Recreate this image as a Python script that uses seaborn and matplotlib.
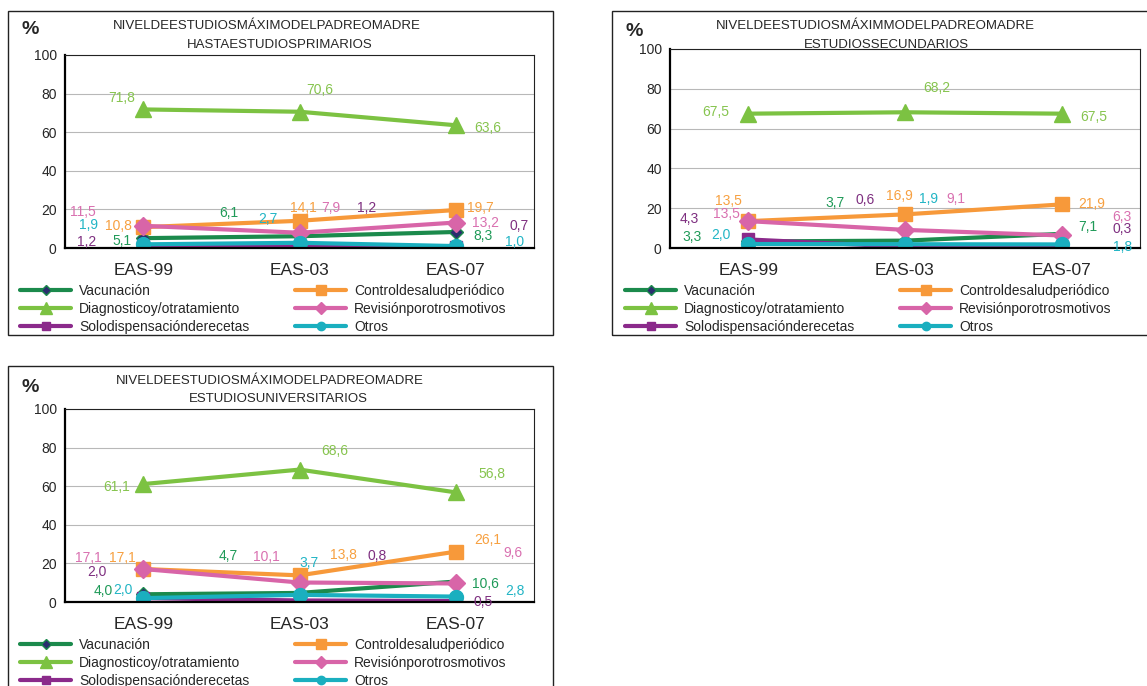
import numpy as np
import matplotlib
matplotlib.use("Agg")
import matplotlib.pyplot as plt
import seaborn as sns
from matplotlib.lines import Line2D
from matplotlib.patches import Rectangle

sns.set_style("white")
plt.rcParams['font.family'] = ['Liberation Sans', 'DejaVu Sans']

W, H = 1147, 686

surveys = ["EAS-99", "EAS-03", "EAS-07"]
series_names = ["Vacunación", "Controldesaludperiódico", "Diagnosticoy/otratamiento",
                "Revisiónporotrosmotivos", "Solodispensaciónderecetas", "Otros"]

# % por nivel de estudios del padre o madre (orden de series_names)
primarios = [
    [5.1, 6.1, 8.3],
    [10.8, 14.1, 19.7],
    [71.8, 70.6, 63.6],
    [11.5, 7.9, 13.2],
    [1.2, 1.2, 0.7],
    [1.9, 2.7, 1.0],
]
secundarios = [
    [3.3, 3.7, 7.1],
    [13.5, 16.9, 21.9],
    [67.5, 68.2, 67.5],
    [13.5, 9.1, 6.3],
    [4.3, 0.6, 0.3],
    [2.0, 1.9, 1.8],
]
universitarios = [
    [4.0, 4.7, 10.6],
    [17.1, 13.8, 26.1],
    [61.1, 68.6, 56.8],
    [17.1, 10.1, 9.6],
    [2.0, 0.8, 0.5],
    [2.0, 3.7, 2.8],
]

titles = [
    ("NIVELDEESTUDIOSMÁXIMODELPADREOMADRE", "HASTAESTUDIOSPRIMARIOS"),
    ("NIVELDEESTUDIOSMÁXIMMODELPADREOMADRE", "ESTUDIOSSECUNDARIOS"),
    ("NIVELDEESTUDIOSMÁXIMODELPADREOMADRE", "ESTUDIOSUNIVERSITARIOS"),
]

styles = [
    dict(color="#1b8a4c", marker="D", ms=7, mfc="#2a2e6e", lms=5, text="#1f9a58"),
    dict(color="#f7993a", marker="s", ms=10, mfc="#f7993a", lms=7, text="#f7a040"),
    dict(color="#7cc242", marker="^", ms=12, mfc="#7cc242", lms=8, text="#86c44e"),
    dict(color="#d865a8", marker="D", ms=9, mfc="#d865a8", lms=6, text="#d970b0"),
    dict(color="#8b2a8b", marker="s", ms=9, mfc="#8b2a8b", lms=6, text="#7e2f80"),
    dict(color="#1aafbf", marker="o", ms=10, mfc="#1aafbf", lms=6, text="#22b5c5"),
]

# desplazamiento de las etiquetas (pixeles, dx, dy)
offsets = [
    [[(-21, -3), (-71, 23), (27, -4)],
     [(-25, 1), (4, 13), (25, 2)],
     [(-21, 11), (20, 22), (32, -3)],
     [(-60, 14), (31, 25), (30, 0)],
     [(-57, 4), (67, 38), (63, 21)],
     [(-55, 19), (-32, 24), (59, 4)]],
    [[(-56, 4), (-70, 38), (26, 7)],
     [(-20, 20), (-6, 18), (30, 0)],
     [(-33, 2), (32, 24), (32, -3)],
     [(-22, 7), (51, 31), (60, 18)],
     [(-59, 20), (-40, 47), (60, 18)],
     [(-27, 9), (24, 45), (61, -3)]],
    [[(-40, 3), (-71, 37), (30, -2)],
     [(-21, 11), (44, 20), (32, 12)],
     [(-27, -3), (35, 19), (36, 18)],
     [(-55, 11), (-33, 26), (57, 30)],
     [(-46, 26), (78, 44), (27, -1)],
     [(-20, 8), (10, 32), (59, 6)]],
]

# geometria en pixeles: caja, area de trazado, titulo, leyenda
panels = [
    dict(box=(8, 11, 553, 335), area=(65, 55, 534, 248), pct=(30, 30),
         t1=(267, 26), t2=(280, 45), leg_y=309, leg_x=(20, 295)),
    dict(box=(612, 11, 1170, 335), area=(670, 49, 1140, 248), pct=(634, 32),
         t1=(875, 26), t2=(886, 45), leg_y=309, leg_x=(625, 900)),
    dict(box=(8, 366, 553, 700), area=(65, 409, 534, 602), pct=(30, 388),
         t1=(270, 381), t2=(278, 399), leg_y=663, leg_x=(20, 295)),
]

fig = plt.figure(figsize=(W / 100, H / 100), dpi=100)
x = np.arange(len(surveys))

for data, offs, geo, (tt1, tt2) in zip([primarios, secundarios, universitarios], offsets, panels, titles):
    bx0, by0, bx1, by1 = geo["box"]
    fig.add_artist(Rectangle((bx0 / W, 1 - by1 / H), (bx1 - bx0) / W, (by1 - by0) / H,
                             transform=fig.transFigure, fill=False, ec="#222222", lw=1.0))
    ax0, ay0, ax1, ay1 = geo["area"]
    ax = fig.add_axes([ax0 / W, 1 - ay1 / H, (ax1 - ax0) / W, (ay1 - ay0) / H])

    for name, vals, st, off in zip(series_names, data, styles, offs):
        sns.lineplot(x=x, y=vals, ax=ax, color=st["color"], marker=st["marker"],
                     markersize=st["ms"], markerfacecolor=st["mfc"],
                     markeredgecolor=st["color"], markeredgewidth=1, linewidth=3,
                     legend=False)
        for i, (v, (dx, dy)) in enumerate(zip(vals, off)):
            ax.annotate(f"{v:.1f}".replace(".", ","), (x[i], v), xytext=(dx, dy),
                        textcoords="offset pixels", ha="center", va="center",
                        color=st["text"], fontsize=10, annotation_clip=False)

    ax.set_xlim(-0.5, 2.5)
    ax.set_ylim(0, 100)
    ax.set_yticks(range(0, 101, 20))
    ax.yaxis.grid(True, color="#b8b8b8", lw=0.8)
    ax.set_axisbelow(True)
    ax.set_xticks(x)
    ax.set_xticklabels(surveys, fontsize=12.5)
    ax.set_xticks([-0.5, 0.5, 1.5, 2.5], minor=True)
    ax.tick_params(axis="x", which="major", length=0, pad=11)
    ax.tick_params(axis="x", which="minor", length=5, direction="out", width=1)
    ax.tick_params(axis="y", length=4, direction="out", width=1, labelsize=10, pad=2)
    ax.set_xlabel("")
    ax.set_ylabel("")
    for side in ["left", "bottom"]:
        ax.spines[side].set_color("black")
        ax.spines[side].set_linewidth(1.6)
    for side in ["top", "right"]:
        ax.spines[side].set_color("#222222")
        ax.spines[side].set_linewidth(0.8)

    fig.text(geo["pct"][0] / W, 1 - geo["pct"][1] / H, "%", fontsize=14, fontweight="bold",
             ha="center", va="center")
    fig.text(geo["t1"][0] / W, 1 - geo["t1"][1] / H, tt1, fontsize=9.5, ha="center", va="center")
    fig.text(geo["t2"][0] / W, 1 - geo["t2"][1] / H, tt2, fontsize=9.5, ha="center", va="center")

    handles = [Line2D([], [], color=st["color"], lw=3, marker=st["marker"], markersize=st["lms"],
                      markerfacecolor=st["mfc"], markeredgecolor=st["color"])
               for st in styles]
    leg_kw = dict(loc="center left", bbox_transform=fig.transFigure, frameon=False,
                  borderpad=0, borderaxespad=0, handlelength=3.7, handletextpad=0.55,
                  labelspacing=0.3, fontsize=10)
    leg1 = ax.legend([handles[0], handles[2], handles[4]],
                     [series_names[0], series_names[2], series_names[4]],
                     bbox_to_anchor=(geo["leg_x"][0] / W, 1 - geo["leg_y"] / H), **leg_kw)
    ax.add_artist(leg1)
    ax.legend([handles[1], handles[3], handles[5]],
              [series_names[1], series_names[3], series_names[5]],
              bbox_to_anchor=(geo["leg_x"][1] / W, 1 - geo["leg_y"] / H), **leg_kw)

fig.savefig("out.png", dpi=100)
